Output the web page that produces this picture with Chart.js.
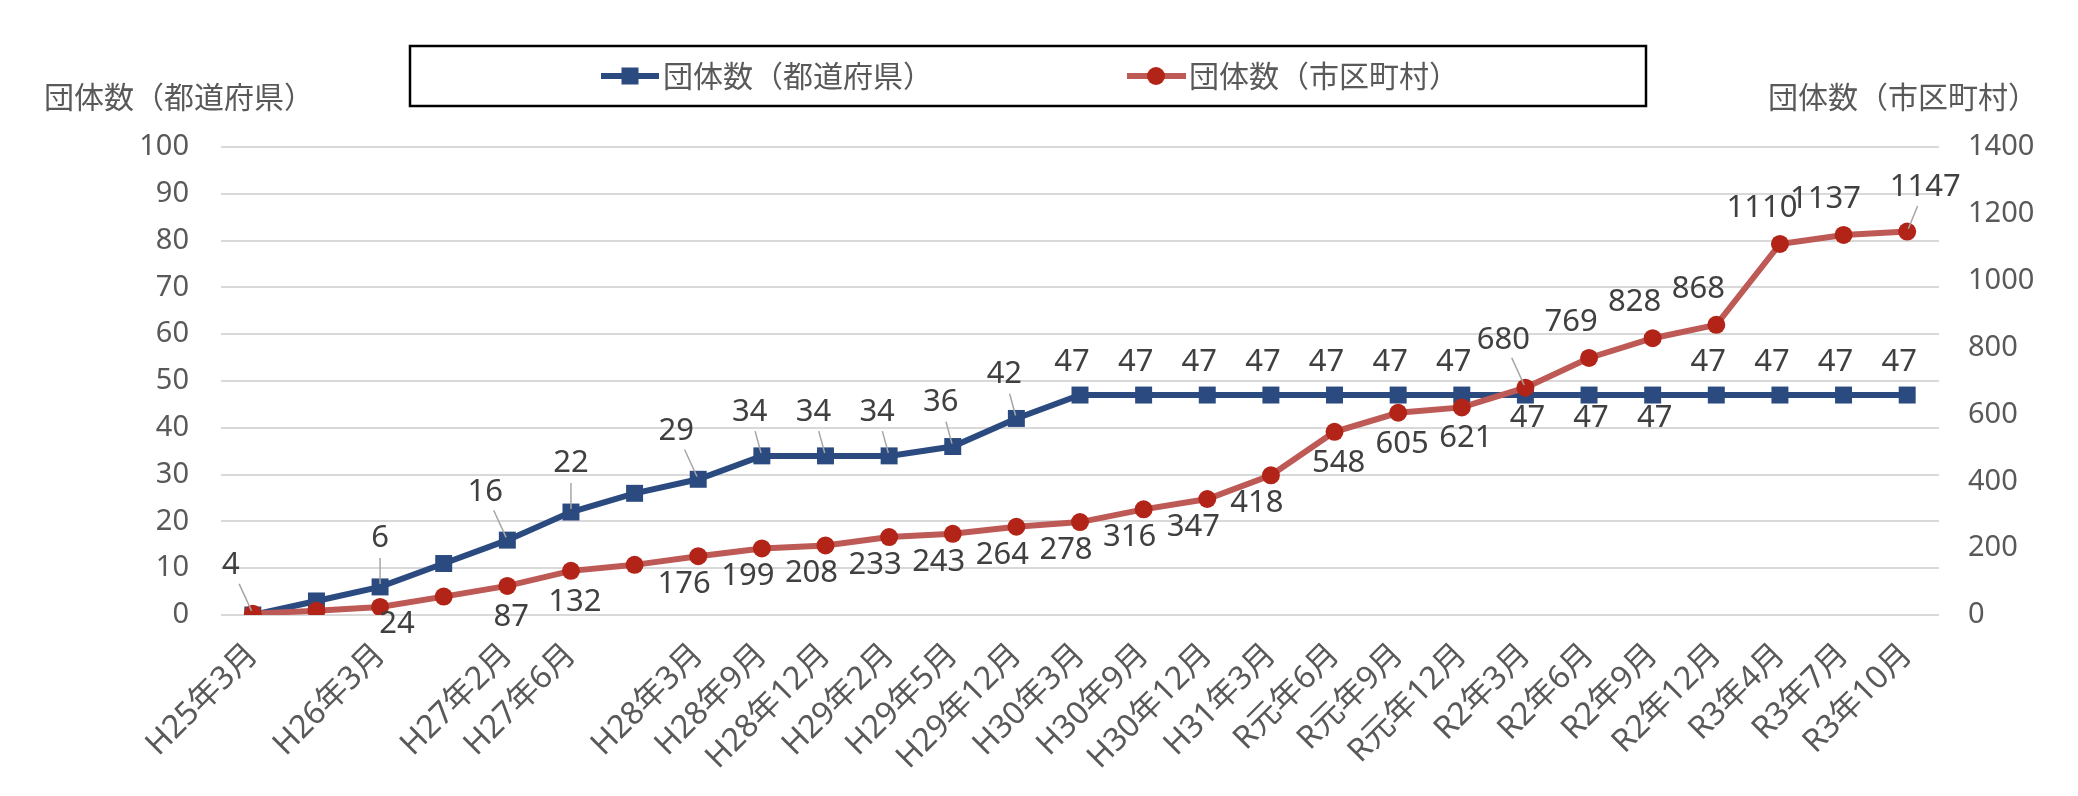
<!DOCTYPE html>
<html>
<head>
<meta charset="utf-8">
<script src="https://cdn.jsdelivr.net/npm/chart.js@4.4.1/dist/chart.umd.min.js"></script>
<style>
  html, body { margin: 0; padding: 0; background: #fff; }
  #wrap { width: 2078px; height: 796px; }
</style>
</head>
<body>
<div id="wrap"><canvas id="chart"></canvas></div>
<script>
// categories (blank ones have no label on the axis)
const periods = ['H25年3月', '', 'H26年3月', '', 'H27年2月', 'H27年6月', '', 'H28年3月', 'H28年9月',
  'H28年12月', 'H29年2月', 'H29年5月', 'H29年12月', 'H30年3月', 'H30年9月', 'H30年12月', 'H31年3月',
  'R元年6月', 'R元年9月', 'R元年12月', 'R2年3月', 'R2年6月', 'R2年9月', 'R2年12月', 'R3年4月', 'R3年7月', 'R3年10月'];

const prefCounts = [0, 3, 6, 11, 16, 22, 26, 29, 34, 34, 34, 36, 42, 47, 47, 47, 47, 47, 47, 47, 47, 47, 47, 47, 47, 47, 47];
const muniCounts = [4, 13, 24, 55, 87, 132, 150, 176, 199, 208, 233, 243, 264, 278, 316, 347, 418, 548, 605, 621, 680, 769, 828, 868, 1110, 1137, 1147];

// where each data label sits (see LABEL_OFFSETS), n = no label
const prefLabelPos = ['n', 'n', 'V', 'n', 'L', 'V', 'n', 'L', 'A', 'A', 'A', 'A', 'A', 'a', 'a', 'a', 'a', 'a', 'a', 'a', 'd', 'd', 'd', 'a', 'a', 'a', 'a'];
const muniLabelPos = ['L', 'n', 'B', 'n', 'c', 'c', 'n', 'b', 'b', 'b', 'b', 'b', 'b', 'b', 'b', 'b', 'b', 'c', 'c', 'c', 'L', 'l', 'l', 'l', 'l', 'l', 'R'];

const prefTitle = '団体数（都道府県）';
const muniTitle = '団体数（市区町村）';

const BLUE = '#2B4A80';
const RED_LINE = '#BE5A56';
const RED_DOT = '#B22418';
const FONT = '"Noto Sans", "Noto Sans CJK JP", sans-serif';
const CJK_FONT = '"Noto Sans CJK JP", sans-serif';

// [dx, dy] from the point, and whether a leader line is drawn
const LABEL_OFFSETS = {
  a: [-8, -33, false],
  A: [-12, -44, true],
  V: [0, -49, true],
  L: [-22, -48, true],
  R: [18, -44, true],
  l: [-18, -36, false],
  b: [-14, 28, false],
  c: [4, 31, false],
  d: [2, 23, false],
  B: [17, 17, false]
};

const labelPlugin = {
  id: 'pointLabels',
  afterDatasetsDraw(chart) {
    const ctx = chart.ctx;
    ctx.save();
    ctx.font = '31px ' + FONT;
    ctx.textAlign = 'center';
    ctx.textBaseline = 'middle';
    chart.data.datasets.forEach((ds, di) => {
      const meta = chart.getDatasetMeta(di);
      meta.data.forEach((pt, i) => {
        const off = LABEL_OFFSETS[ds.labelPos[i]];
        if (!off) return;
        const x = pt.x + off[0], y = pt.y + off[1];
        if (off[2]) {
          const len = Math.hypot(off[0], off[1]);
          const ux = off[0] / len, uy = off[1] / len;
          ctx.strokeStyle = '#A6A6A6';
          ctx.lineWidth = 1.5;
          ctx.beginPath();
          ctx.moveTo(pt.x + ux * 3, pt.y + uy * 3);
          ctx.lineTo(pt.x + ux * (len - 20), pt.y + uy * (len - 20));
          ctx.stroke();
        }
        ctx.fillStyle = '#404040';
        ctx.fillText(String(ds.data[i]), x, y);
      });
    });
    ctx.restore();
  }
};

const decorPlugin = {
  id: 'decor',
  afterDraw(chart) {
    const ctx = chart.ctx;
    ctx.save();
    ctx.font = '30px ' + CJK_FONT;
    ctx.fillStyle = '#595959';
    ctx.textBaseline = 'middle';
    // axis titles
    ctx.textAlign = 'left';
    ctx.fillText(prefTitle, 44, 97);
    ctx.textAlign = 'right';
    ctx.fillText(muniTitle, 2038, 97);

    // legend box
    ctx.strokeStyle = '#000';
    ctx.lineWidth = 2.5;
    ctx.strokeRect(410, 46, 1236, 60);
    const ly = 76;
    const ds = chart.data.datasets;
    ctx.strokeStyle = ds[0].borderColor;
    ctx.lineWidth = 6;
    ctx.beginPath(); ctx.moveTo(601, ly); ctx.lineTo(659, ly); ctx.stroke();
    ctx.fillStyle = ds[0].pointBackgroundColor;
    ctx.fillRect(630 - 8.5, ly - 8.5, 17, 17);
    ctx.strokeStyle = ds[1].borderColor;
    ctx.beginPath(); ctx.moveTo(1127, ly); ctx.lineTo(1186, ly); ctx.stroke();
    ctx.fillStyle = ds[1].pointBackgroundColor;
    ctx.beginPath(); ctx.arc(1156, ly, 9, 0, Math.PI * 2); ctx.fill();
    ctx.fillStyle = '#595959';
    ctx.textAlign = 'left';
    ctx.fillText(ds[0].label, 663, ly);
    ctx.fillText(ds[1].label, 1189, ly);
    ctx.restore();
  }
};

const ctx = document.getElementById('chart').getContext('2d');
new Chart(ctx, {
  type: 'line',
  data: {
    labels: periods,
    datasets: [{
      label: prefTitle,
      data: prefCounts,
      labelPos: prefLabelPos,
      yAxisID: 'y',
      order: 1,
      borderColor: BLUE,
      backgroundColor: BLUE,
      borderWidth: 6,
      tension: 0,
      pointStyle: 'rect',
      pointRadius: 12,
      pointBackgroundColor: BLUE,
      pointBorderColor: BLUE,
      pointBorderWidth: 0
    }, {
      label: muniTitle,
      data: muniCounts,
      labelPos: muniLabelPos,
      yAxisID: 'y1',
      order: 0,
      borderColor: RED_LINE,
      backgroundColor: RED_DOT,
      borderWidth: 6,
      tension: 0,
      pointStyle: 'circle',
      pointRadius: 9,
      pointBackgroundColor: RED_DOT,
      pointBorderColor: RED_DOT,
      pointBorderWidth: 0
    }]
  },
  options: {
    responsive: true,
    maintainAspectRatio: false,
    animation: false,
    layout: { padding: { top: 147, left: 0, right: 0, bottom: 0 } },
    plugins: {
      legend: { display: false },
      tooltip: { enabled: false }
    },
    scales: {
      x: {
        offset: true,
        grid: { display: false, drawTicks: false },
        border: { display: false },
        ticks: {
          autoSkip: false,
          minRotation: 45,
          maxRotation: 45,
          padding: 21,
          color: '#595959',
          font: { family: FONT, size: 32 }
        },
        afterFit: s => { s.height = 181; }
      },
      y: {
        position: 'left',
        min: 0,
        max: 100,
        ticks: { stepSize: 10, padding: 32, color: '#595959', font: { family: FONT, size: 29 }, callback: v => String(v) },
        grid: { color: '#D9D9D9', lineWidth: 2, drawTicks: false },
        border: { display: false },
        afterFit: s => { s.width = 221; }
      },
      y1: {
        position: 'right',
        min: 0,
        max: 1400,
        ticks: { stepSize: 200, padding: 29, color: '#595959', font: { family: FONT, size: 29 }, callback: v => String(v) },
        grid: { display: false, drawTicks: false },
        border: { display: false },
        afterFit: s => { s.width = 139; }
      }
    }
  },
  plugins: [labelPlugin, decorPlugin]
});
</script>
</body>
</html>
